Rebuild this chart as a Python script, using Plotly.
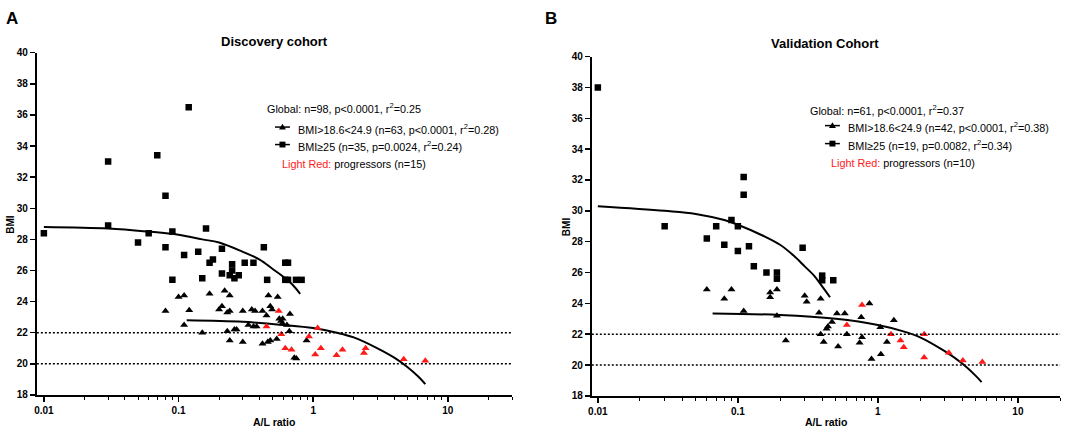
import math
import plotly.graph_objects as go

W, H = 1084, 435
FONT = "Liberation Sans"
RED = "#ff1a1a"

# ---------------- Discovery cohort (panel A) ----------------
disc_sq_x = [0.119, 0.030, 0.0695, 0.080, 0.01, 0.030, 0.050, 0.060, 0.080, 0.090, 0.090,
             0.11, 0.15, 0.14, 0.16, 0.17, 0.18, 0.21, 0.21, 0.24, 0.25, 0.25, 0.26, 0.28,
             0.31, 0.36, 0.43, 0.455, 0.62, 0.65, 0.62, 0.65, 0.745, 0.82]
disc_sq_y = [36.5, 33.0, 33.4, 30.8, 28.4, 28.9, 27.8, 28.4, 27.5, 28.5, 25.4,
             27.0, 25.5, 27.2, 28.7, 26.5, 26.7, 27.4, 25.8, 25.7, 26.4, 26.0, 25.5, 25.7,
             26.5, 26.5, 27.5, 25.4, 26.5, 26.5, 25.4, 25.4, 25.4, 25.4]

disc_tri_x = [0.08, 0.10, 0.11, 0.11, 0.12, 0.15, 0.17, 0.20, 0.21, 0.22, 0.23, 0.23,
              0.24, 0.24, 0.24, 0.26, 0.27, 0.30, 0.30, 0.33, 0.35, 0.36, 0.37, 0.38,
              0.42, 0.42, 0.45, 0.465, 0.46, 0.48, 0.48, 0.495, 0.536, 0.545, 0.56,
              0.577, 0.593, 0.59, 0.638, 0.665, 0.672, 0.724, 0.75, 0.893]
disc_tri_y = [23.4, 24.3, 24.4, 22.5, 23.45, 22.0, 24.5, 23.5, 23.7, 24.7, 23.3, 22.1,
              24.4, 23.4, 21.5, 22.2, 22.2, 23.4, 21.4, 22.5, 23.5, 22.4, 23.4, 22.4,
              23.4, 21.3, 23.1, 24.4, 21.4, 21.5, 23.7, 23.5, 21.6, 24.3, 22.9,
              22.75, 22.9, 22.6, 22.5, 22.1, 23.2, 20.4, 20.35, 21.5]

disc_red_x = [0.45, 0.555, 0.58, 0.62, 0.69, 0.93, 1.08, 1.035, 1.14, 1.49, 1.65, 2.38, 2.45, 4.7, 6.8]
disc_red_y = [22.4, 23.4, 21.9, 21.0, 20.9, 21.75, 22.3, 20.6, 21.0, 20.55, 20.9, 20.7, 21.0, 20.3, 20.2]

disc_fit_sq_x = [0.01, 0.03, 0.06, 0.1, 0.15, 0.2, 0.3, 0.4, 0.5, 0.6, 0.7, 0.8]
disc_fit_sq_y = [28.8, 28.7, 28.5, 28.3, 28.0, 27.8, 27.2, 26.7, 26.1, 25.6, 25.1, 24.5]
disc_fit_tri_x = [0.115, 0.3, 0.6, 1, 1.5, 2, 3, 4, 5, 6, 6.8]
disc_fit_tri_y = [22.8, 22.7, 22.5, 22.3, 22.0, 21.7, 21.0, 20.4, 19.8, 19.2, 18.7]

# ---------------- Validation cohort (panel B) ----------------
val_sq_x = [0.01, 0.11, 0.11, 0.03, 0.06, 0.07, 0.08, 0.09, 0.1, 0.1, 0.12, 0.13, 0.16,
            0.19, 0.19, 0.29, 0.40, 0.40, 0.48]
val_sq_y = [38.0, 32.2, 31.05, 29.0, 28.2, 29.0, 27.8, 29.4, 29.0, 27.4, 27.7, 26.4, 26.0,
            26.0, 25.6, 27.6, 25.8, 25.5, 25.5]

val_tri_x = [0.06, 0.08, 0.09, 0.11, 0.17, 0.17, 0.19, 0.19, 0.22, 0.30, 0.31, 0.38, 0.39,
             0.39, 0.41, 0.43, 0.44, 0.47, 0.51, 0.52, 0.58, 0.60, 0.74, 0.76, 0.77, 0.87,
             0.90, 1.04, 1.05, 1.16, 1.30]
val_tri_y = [24.9, 24.3, 24.9, 23.5, 24.7, 24.4, 24.9, 23.2, 21.6, 24.5, 24.1, 23.4, 24.3,
             22.0, 21.5, 22.35, 22.5, 22.8, 23.35, 21.2, 23.35, 22.0, 21.45, 23.1, 21.8, 24.0,
             20.4, 22.45, 20.7, 21.5, 22.9]

val_red_x = [0.77, 0.60, 1.24, 1.45, 1.53, 2.14, 2.14, 3.21, 4.04, 5.57]
val_red_y = [23.9, 22.6, 22.0, 21.6, 21.15, 22.0, 20.5, 20.8, 20.3, 20.2]

val_fit_sq_x = [0.01, 0.03, 0.05, 0.08, 0.1, 0.15, 0.2, 0.25, 0.3, 0.35, 0.4, 0.455]
val_fit_sq_y = [30.3, 30.0, 29.8, 29.4, 29.1, 28.4, 27.8, 27.1, 26.4, 25.8, 25.1, 24.4]
val_fit_tri_x = [0.066, 0.2, 0.5, 1, 1.5, 2, 3, 4, 5, 5.5]
val_fit_tri_y = [23.35, 23.25, 23.0, 22.6, 22.2, 21.8, 20.9, 20.1, 19.3, 18.9]

# ---------------- Axes text ----------------
x_tick_vals = [0.01, 0.1, 1, 10]
x_tick_text = ["0.01", "0.1", "1", "10"]
x_minor_vals = [m * f for f in (0.01, 0.1, 1) for m in (2, 3, 4, 5, 6, 7, 8, 9)] + [20, 30]
y_tick_vals = [18, 20, 22, 24, 26, 28, 30, 32, 34, 36, 38, 40]
ref_levels = [22, 20]
x_max = [30, 20]

titles = ["Discovery cohort", "Validation Cohort"]
panel_letters = ["A", "B"]
x_title = "A/L ratio"
y_title = "BMI"
global_text = ["Global: n=98, p&lt;0.0001, r<sup>2</sup>=0.25",
               "Global: n=61, p&lt;0.0001, r<sup>2</sup>=0.37"]
normal_text = ["BMI&gt;18.6&lt;24.9 (n=63, p&lt;0.0001, r<sup>2</sup>=0.28)",
               "BMI&gt;18.6&lt;24.9 (n=42, p&lt;0.0001, r<sup>2</sup>=0.38)"]
over_text = ["BMI≥25 (n=35, p=0.0024, r<sup>2</sup>=0.24)",
             "BMI≥25 (n=19, p=0.0082, r<sup>2</sup>=0.34)"]
prog_text = ["<span style='color:%s'>Light Red:</span> progressors (n=15)" % RED,
             "<span style='color:%s'>Light Red:</span> progressors (n=10)" % RED]

# ---------------- Layout geometry (pixels) ----------------
panels = [
    dict(x0=33, x1=510, y0=48, y1=400, xmin=-2.052, tx=272, ty=36,
         lx=8, ly=13, ytx=7, g=(262, 105), n=(293, 126), o=(293, 144), p=(277, 162), icon=(272, 287)),
    dict(x0=590, x1=1060, y0=52, y1=401, xmin=-2.043, tx=824, ty=39,
         lx=549, ly=13, ytx=564, g=(807, 107), n=(845, 124.5), o=(845, 143), p=(828, 161), icon=(824, 839)),
]


def px(p):
    return p / W


def py(p):
    return 1 - p / H


fig = go.Figure()

series = [
    (disc_sq_x, disc_sq_y, disc_tri_x, disc_tri_y, disc_red_x, disc_red_y,
     disc_fit_sq_x, disc_fit_sq_y, disc_fit_tri_x, disc_fit_tri_y),
    (val_sq_x, val_sq_y, val_tri_x, val_tri_y, val_red_x, val_red_y,
     val_fit_sq_x, val_fit_sq_y, val_fit_tri_x, val_fit_tri_y),
]

annotations = []
shapes = []
for i, (pn, s) in enumerate(zip(panels, series)):
    xa = "x" if i == 0 else "x2"
    ya = "y" if i == 0 else "y2"
    sqx, sqy, trx, tr_y, rx, ry, fsx, fsy, ftx, fty = s
    fig.add_trace(go.Scatter(x=fsx, y=fsy, mode="lines", line=dict(color="black", width=2, shape="spline"),
                             xaxis=xa, yaxis=ya, showlegend=False, hoverinfo="skip"))
    fig.add_trace(go.Scatter(x=ftx, y=fty, mode="lines", line=dict(color="black", width=2, shape="spline"),
                             xaxis=xa, yaxis=ya, showlegend=False, hoverinfo="skip"))
    fig.add_trace(go.Scatter(x=sqx, y=sqy, mode="markers",
                             marker=dict(symbol="square", size=6.5, color="black"),
                             xaxis=xa, yaxis=ya, showlegend=False))
    fig.add_trace(go.Scatter(x=trx, y=tr_y, mode="markers",
                             marker=dict(symbol="triangle-up", size=7, color="black"),
                             xaxis=xa, yaxis=ya, showlegend=False))
    fig.add_trace(go.Scatter(x=rx, y=ry, mode="markers",
                             marker=dict(symbol="triangle-up", size=7, color=RED),
                             xaxis=xa, yaxis=ya, showlegend=False))

    axis_common = dict(showline=True, linecolor="black", linewidth=2, ticks="outside",
                       ticklen=5, tickwidth=1.5, tickcolor="black", showgrid=False, zeroline=False,
                       tickfont=dict(family=FONT, size=10, color="black", weight="bold"))
    xaxis = dict(axis_common, type="log", domain=[px(pn["x0"]), px(pn["x1"])],
                 range=[pn["xmin"], math.log10(x_max[i])],
                 anchor=ya, tickmode="array", tickvals=x_tick_vals, ticktext=x_tick_text,
                 minor=dict(tickmode="array", tickvals=x_minor_vals, ticks="outside", ticklen=3,
                            tickwidth=1, tickcolor="black", showgrid=False))
    yaxis = dict(axis_common, domain=[py(pn["y1"]), py(pn["y0"])], range=[18, 40],
                 anchor=xa, tickmode="array", tickvals=y_tick_vals)
    fig.layout["xaxis" if i == 0 else "xaxis2"] = xaxis
    fig.layout["yaxis" if i == 0 else "yaxis2"] = yaxis

    for lvl in ref_levels:
        shapes.append(dict(type="line", xref=xa + " domain", x0=0, x1=1, yref=ya, y0=lvl, y1=lvl,
                           line=dict(color="black", width=1.5, dash="2px,2px")))

    # texts
    annotations.append(dict(text="<b>%s</b>" % titles[i], x=px(pn["tx"]), y=py(pn["ty"]),
                            xref="paper", yref="paper", showarrow=False, xanchor="center", yanchor="middle",
                            font=dict(family=FONT, size=13, color="black")))
    annotations.append(dict(text="<b>%s</b>" % panel_letters[i], x=px(pn["lx"]), y=py(pn["ly"]),
                            xref="paper", yref="paper", showarrow=False, xanchor="center", yanchor="middle",
                            font=dict(family=FONT, size=17, color="black")))
    annotations.append(dict(text="<b>%s</b>" % x_title, x=px((pn["x0"] + pn["x1"]) / 2), y=py(428),
                            xref="paper", yref="paper", showarrow=False, xanchor="center", yanchor="middle",
                            font=dict(family=FONT, size=10.5, color="black")))
    annotations.append(dict(text="<b>%s</b>" % y_title, x=px(pn["ytx"]), y=py((pn["y0"] + pn["y1"]) / 2),
                            xref="paper", yref="paper", showarrow=False, xanchor="center", yanchor="middle",
                            textangle=-90, font=dict(family=FONT, size=10, color="black")))
    for key, txt in (("g", global_text[i]), ("n", normal_text[i]), ("o", over_text[i]), ("p", prog_text[i])):
        annotations.append(dict(text=txt, x=px(pn[key][0]), y=py(pn[key][1]), xref="paper", yref="paper",
                                showarrow=False, xanchor="left", yanchor="middle",
                                font=dict(family=FONT, size=10.8, color="black")))
    # legend icons
    ix0, ix1 = pn["icon"]
    cx = (ix0 + ix1) / 2
    for key in ("n", "o"):
        yy = pn[key][1] - 1.5
        shapes.append(dict(type="line", xref="paper", yref="paper", x0=px(ix0), x1=px(ix1),
                           y0=py(yy), y1=py(yy), line=dict(color="black", width=1.5)))
    yt = pn["n"][1] - 1.5
    shapes.append(dict(type="path", xref="paper", yref="paper",
                       path="M %f %f L %f %f L %f %f Z" % (px(cx - 3.5), py(yt + 2.5), px(cx + 3.5), py(yt + 2.5),
                                                           px(cx), py(yt - 3.5)),
                       fillcolor="black", line=dict(width=0)))
    ys = pn["o"][1] - 1.5
    shapes.append(dict(type="rect", xref="paper", yref="paper", x0=px(cx - 3), x1=px(cx + 3),
                       y0=py(ys + 3), y1=py(ys - 3), fillcolor="black", line=dict(width=0)))

fig.update_layout(width=W, height=H, margin=dict(l=0, r=0, t=0, b=0), paper_bgcolor="white",
                  plot_bgcolor="white", showlegend=False, annotations=annotations, shapes=shapes,
                  font=dict(family=FONT, color="black"), hovermode=False)

fig.write_html("out.html", config={"displayModeBar": False, "staticPlot": True},
               post_script="document.body.style.margin='0px';document.body.style.overflow='hidden';")
